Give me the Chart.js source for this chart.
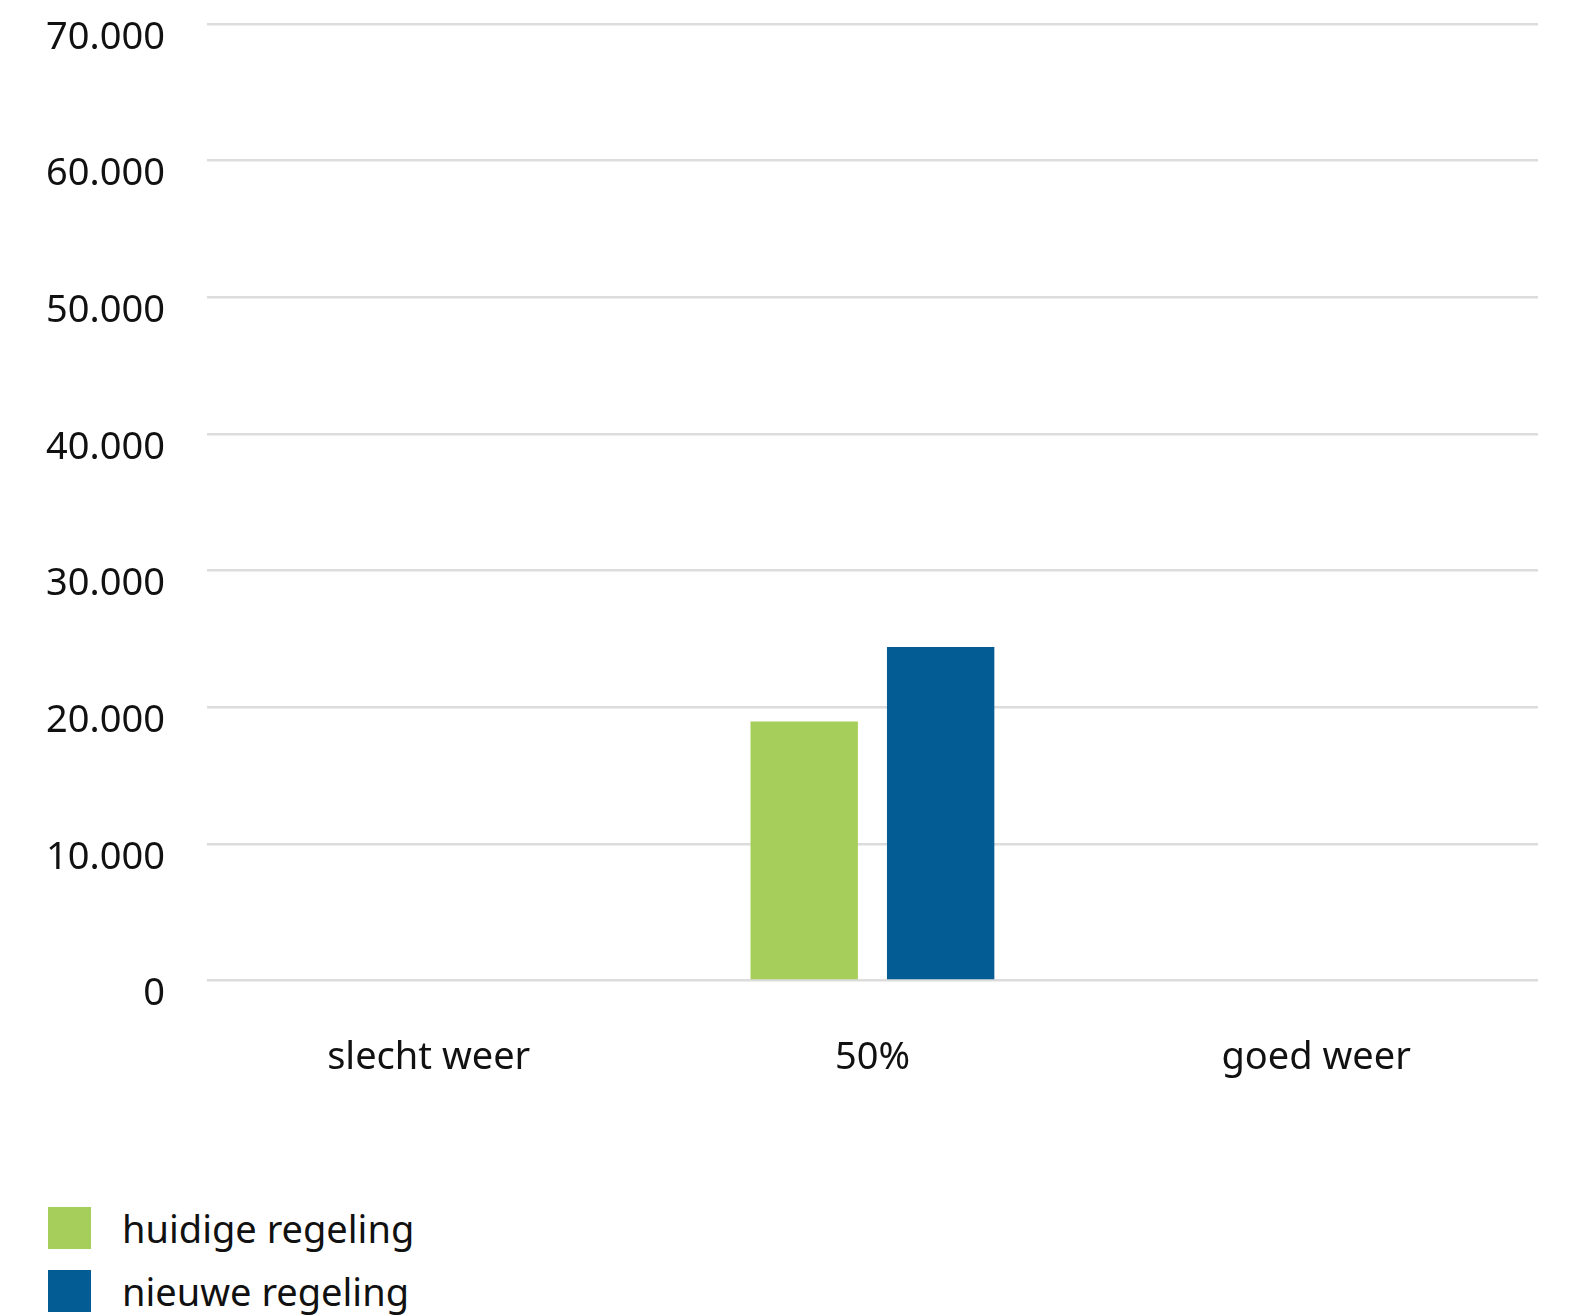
<!DOCTYPE html>
<html>
<head>
<meta charset="utf-8">
<script src="https://cdn.jsdelivr.net/npm/chart.js@4"></script>
<style>
  body { margin: 0; background: #fff; font-family: "Noto Sans", sans-serif; }
  #wrap { position: relative; width: 1573px; height: 1128px; }
  #legend { position: absolute; left: 48px; top: 1196px; }
  .item { display: flex; align-items: center; height: 63px; font-size: 38px; color: #111; }
  .box { width: 43px; height: 42px; margin-right: 31px; }
</style>
</head>
<body>
<div id="wrap"><canvas id="barChart"></canvas></div>
<div id="legend"></div>
<script>
const categories = ['slecht weer', '50%', 'goed weer'];
const huidigeRegeling = [null, 18950, null];
const nieuweRegeling = [null, 24400, null];
const yTicks = [0, 10000, 20000, 30000, 40000, 50000, 60000, 70000];

const groen = '#a6ce5a';
const blauw = '#045c94';

// punt als duizendtalscheiding
function fmt(v) {
  return String(v).replace(/\B(?=(\d{3})+(?!\d))/g, '.');
}

const ctx = document.getElementById('barChart').getContext('2d');
const data = {
  labels: categories,
  datasets: [
    {
      label: 'huidige regeling',
      data: huidigeRegeling,
      backgroundColor: groen,
      categoryPercentage: 0.615,
      barPercentage: 0.787
    },
    {
      label: 'nieuwe regeling',
      data: nieuweRegeling,
      backgroundColor: blauw,
      categoryPercentage: 0.615,
      barPercentage: 0.787
    }
  ]
};

const options = {
  responsive: true,
  maintainAspectRatio: false,
  animation: false,
  layout: { padding: { top: 24, right: 35, left: 4, bottom: 0 } },
  plugins: {
    legend: { display: false },
    tooltip: { enabled: false }
  },
  scales: {
    x: {
      grid: { display: false },
      border: { display: false },
      ticks: {
        color: '#111',
        padding: 47,
        font: { family: 'Noto Sans', size: 38 }
      }
    },
    y: {
      min: 0,
      max: 70000,
      afterBuildTicks: (axis) => { axis.ticks = yTicks.map(v => ({ value: v })); },
      afterFit: (axis) => { axis.paddingTop = 0; },
      border: { display: false },
      grid: { color: '#dcdcdc', lineWidth: 2.5, drawTicks: false },
      ticks: {
        color: '#111',
        padding: 42,
        labelOffset: 14,
        font: { family: 'Noto Sans', size: 38 },
        callback: (v) => fmt(v)
      }
    }
  }
};

const barChart = new Chart(ctx, { type: 'bar', data: data, options: options });

// legenda onder de grafiek, als lijst
const legend = document.getElementById('legend');
data.datasets.forEach(ds => {
  const item = document.createElement('div');
  item.className = 'item';
  const box = document.createElement('div');
  box.className = 'box';
  box.style.background = ds.backgroundColor;
  const txt = document.createElement('span');
  txt.textContent = ds.label;
  item.appendChild(box);
  item.appendChild(txt);
  legend.appendChild(item);
});
</script>
</body>
</html>
